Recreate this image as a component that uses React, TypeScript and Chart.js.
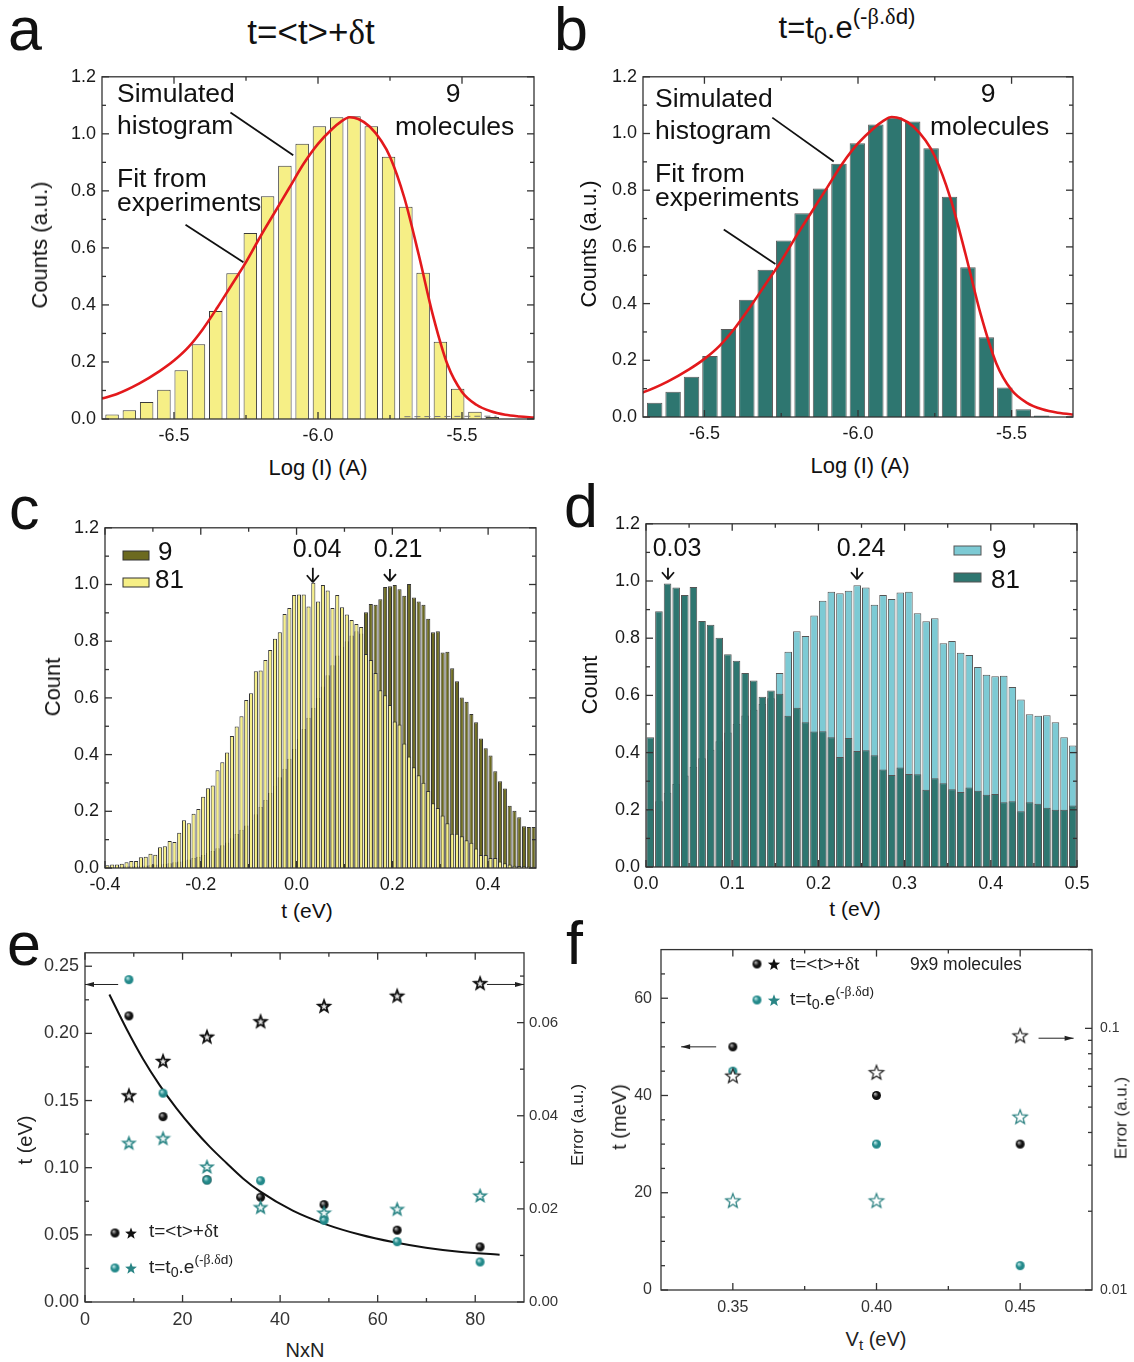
import React, { useEffect, useRef } from "react";
import { Chart, registerables } from "chart.js";

Chart.register(...registerables);

const SANS = '"Liberation Sans", Arial, Helvetica, sans-serif';
const SERIF = '"Liberation Serif", "DejaVu Serif", serif';

// ------------------------------------------------------------------ data
// panel a : simulated histogram, t = <t> + dt
const A_BIN_FIRST = -6.715;
const A_BIN_STEP = 0.06;
const A_COUNTS = [0.016, 0.031, 0.06, 0.103, 0.171, 0.262, 0.379, 0.511, 0.652, 0.781, 0.888, 0.965, 1.027, 1.058, 1.062, 1.027, 0.92, 0.744, 0.513, 0.271, 0.106, 0.025, 0.007];
// panel b : simulated histogram, t = t0.exp(-b.dd)
const B_BIN_FIRST = -6.662;
const B_BIN_STEP = 0.06;
const B_COUNTS = [0.05, 0.089, 0.142, 0.215, 0.31, 0.414, 0.519, 0.623, 0.719, 0.806, 0.893, 0.966, 1.032, 1.056, 1.042, 0.948, 0.777, 0.528, 0.281, 0.104, 0.027, 0.005];
// fit from experiments (same in a and b)
const FIT_LOGI = [-6.75, -6.7, -6.62, -6.55, -6.5, -6.45, -6.4, -6.35, -6.3, -6.25, -6.2, -6.15, -6.1, -6.05, -6.0, -5.95, -5.92, -5.89, -5.86, -5.82, -5.78, -5.75, -5.7, -5.65, -5.6, -5.55, -5.5, -5.45, -5.4, -5.35, -5.3, -5.25];
const FIT_COUNTS = [0.072, 0.087, 0.125, 0.168, 0.205, 0.252, 0.315, 0.39, 0.47, 0.55, 0.64, 0.725, 0.81, 0.895, 0.965, 1.018, 1.043, 1.058, 1.052, 1.025, 0.975, 0.92, 0.775, 0.575, 0.36, 0.19, 0.095, 0.05, 0.027, 0.015, 0.009, 0.005];
const AB_X_TICKS = [-6.5, -6.0, -5.5];
const AB_X_MINOR = [-6.25, -5.75];
const HIST_Y_TICKS = [0, 0.2, 0.4, 0.6, 0.8, 1.0, 1.2];
const HIST_Y_MINOR = [0.1, 0.3, 0.5, 0.7, 0.9, 1.1];

// panel c : t distributions (t=<t>+dt), 9 and 81 molecules
const C_BIN_FIRST = -0.395;
const C_BIN_STEP = 0.01;
const C_81 = [
  0.01, 0.012, 0.012, 0.015, 0.02, 0.025, 0.025, 0.038, 0.04, 0.05,
  0.047, 0.073, 0.077, 0.095, 0.092, 0.124, 0.168, 0.158, 0.191, 0.208,
  0.251, 0.281, 0.291, 0.345, 0.373, 0.407, 0.466, 0.499, 0.535, 0.593,
  0.616, 0.694, 0.697, 0.734, 0.769, 0.809, 0.832, 0.896, 0.917, 0.963,
  0.965, 0.965, 0.922, 1.006, 0.94, 0.998, 0.979, 0.917, 0.963, 0.92,
  0.894, 0.875, 0.861, 0.85, 0.755, 0.734, 0.688, 0.627, 0.609, 0.575,
  0.517, 0.506, 0.439, 0.393, 0.355, 0.327, 0.301, 0.272, 0.228, 0.212,
  0.185, 0.158, 0.121, 0.121, 0.112, 0.098, 0.089, 0.069, 0.046, 0.046,
  0.035, 0.035, 0.023, 0.017, 0.012, 0.008, 0.007, 0.006, 0.005, 0.004,
];
const C_9 = [
  0.003, 0.004, 0.004, 0.005, 0.006, 0.006, 0.007, 0.008, 0.009, 0.01,
  0.012, 0.013, 0.015, 0.017, 0.02, 0.023, 0.026, 0.03, 0.035, 0.04,
  0.046, 0.053, 0.06, 0.07, 0.08, 0.09, 0.105, 0.12, 0.135, 0.15,
  0.17, 0.19, 0.215, 0.24, 0.265, 0.29, 0.32, 0.35, 0.385, 0.42,
  0.455, 0.49, 0.53, 0.565, 0.6, 0.64, 0.68, 0.715, 0.75, 0.78,
  0.8, 0.82, 0.835, 0.827, 0.902, 0.931, 0.929, 0.948, 0.991, 0.994,
  0.998, 0.983, 0.96, 1.002, 0.954, 0.94, 0.929, 0.879, 0.832, 0.835,
  0.76, 0.763, 0.705, 0.659, 0.601, 0.586, 0.543, 0.514, 0.457, 0.422,
  0.397, 0.341, 0.306, 0.28, 0.22, 0.202, 0.179, 0.147, 0.145, 0.145,
];
const C_X_TICKS = [-0.4, -0.2, 0, 0.2, 0.4];
const C_X_MINOR = [-0.3, -0.1, 0.1, 0.3];

// panel d : t distributions (t=t0.exp), 9 and 81 molecules
const D_BIN_FIRST = 0.005;
const D_BIN_STEP = 0.01;
const D_9 = [
  0.2, 0.23, 0.26, 0.29, 0.32, 0.35, 0.38, 0.41, 0.44, 0.47,
  0.5, 0.53, 0.55, 0.57, 0.59, 0.678, 0.753, 0.824, 0.808, 0.879,
  0.931, 0.962, 0.957, 0.966, 0.985, 0.977, 0.917, 0.951, 0.937, 0.96,
  0.962, 0.887, 0.859, 0.87, 0.782, 0.79, 0.749, 0.741, 0.699, 0.672,
  0.667, 0.669, 0.629, 0.586, 0.534, 0.529, 0.531, 0.506, 0.454, 0.425,
];
const D_81 = [
  0.454, 0.894, 0.991, 0.977, 0.951, 0.979, 0.86, 0.847, 0.802, 0.744,
  0.721, 0.678, 0.652, 0.595, 0.617, 0.606, 0.529, 0.557, 0.506, 0.474,
  0.475, 0.454, 0.385, 0.451, 0.406, 0.408, 0.391, 0.341, 0.322, 0.348,
  0.325, 0.324, 0.27, 0.31, 0.293, 0.272, 0.262, 0.278, 0.267, 0.253,
  0.255, 0.226, 0.23, 0.195, 0.226, 0.221, 0.207, 0.2, 0.2, 0.215,
];
const D_X_TICKS = [0, 0.1, 0.2, 0.3, 0.4, 0.5];
const D_X_MINOR = [0.05, 0.15, 0.25, 0.35, 0.45];

// panel e : t and error vs NxN
const E_N = [9, 16, 25, 36, 49, 64, 81];
const E_T_SUM = [0.213, 0.138, 0.091, 0.078, 0.0725, 0.0535, 0.041];
const E_T_EXP = [0.24, 0.1555, 0.0908, 0.0903, 0.0608, 0.0449, 0.0298];
const E_ERR_SUM = [0.0444, 0.0518, 0.057, 0.0603, 0.0636, 0.0658, 0.0685];
const E_ERR_EXP = [0.0342, 0.0352, 0.0291, 0.0204, 0.0192, 0.02, 0.0229];
const E_FIT_N = [5.0, 8.5, 11.9, 15.3, 18.8, 22.2, 25.6, 29.0, 32.4, 35.8, 42.6, 49.4, 56.3, 63.1, 69.9, 76.7, 85.0];
const E_FIT_T = [0.229, 0.2035, 0.181, 0.1615, 0.144, 0.129, 0.1155, 0.1035, 0.092, 0.0825, 0.068, 0.0578, 0.0502, 0.0446, 0.0404, 0.0374, 0.0352];
const E_X_TICKS = [0, 20, 40, 60, 80];
const E_X_MINOR = [10, 30, 50, 70];
const E_Y_TICKS = [0, 0.05, 0.1, 0.15, 0.2, 0.25];
const E_Y_MINOR = [0.025, 0.075, 0.125, 0.175, 0.225];
const E_Y2_TICKS = [0, 0.02, 0.04, 0.06];
const E_Y2_MINOR = [0.01, 0.03, 0.05, 0.07];

// panel f : t and error vs Vt (9x9 molecules)
const F_V = [0.35, 0.4, 0.45];
const F_T_SUM = [50, 40, 30];
const F_T_EXP = [45, 30, 5];
const F_ERR_SUM = [0.066, 0.068, 0.094];
const F_ERR_EXP = [0.022, 0.022, 0.046];
const F_X_TICKS = [0.35, 0.4, 0.45];
const F_X_MINOR = [0.375, 0.425];
const F_Y_TICKS = [0, 20, 40, 60];
const F_Y_MINOR = [5, 10, 15, 25, 30, 35, 45, 50, 55, 65];
const F_Y2_TICKS = [0.01, 0.1];
const F_Y2_MINOR = [0.02, 0.03, 0.04, 0.05, 0.06, 0.07, 0.08, 0.09, 0.2];

// ------------------------------------------------------------------ helpers
type CA = { l: number; t: number; r: number; b: number };
type Geo = { ca: CA; left: number; right: number; top: number; bottom: number };

const GEO_A: Geo = { ca: { l: 102, t: 72, r: 534, b: 419 }, left: 60, right: 22, top: 12, bottom: 30 };
const GEO_B: Geo = { ca: { l: 643, t: 72, r: 1073, b: 417 }, left: 60, right: 22, top: 12, bottom: 30 };
const GEO_C: Geo = { ca: { l: 105, t: 523, r: 536, b: 868 }, left: 60, right: 22, top: 12, bottom: 30 };
const GEO_D: Geo = { ca: { l: 646, t: 519, r: 1077, b: 867 }, left: 60, right: 22, top: 12, bottom: 30 };
const GEO_E: Geo = { ca: { l: 85, t: 948, r: 524, b: 1302 }, left: 60, right: 46, top: 12, bottom: 32 };
const GEO_F: Geo = { ca: { l: 661, t: 943, r: 1092, b: 1290 }, left: 44, right: 40, top: 12, bottom: 32 };

const canvasBox = (g: Geo) => ({
  x: g.ca.l - g.left,
  y: g.ca.t - g.top,
  w: g.ca.r - g.ca.l + g.left + g.right,
  h: g.ca.b - g.ca.t + g.top + g.bottom,
});

const centers = (first: number, step: number, n: number) =>
  Array.from({ length: n }, (_, i) => Math.round((first + i * step) * 10000) / 10000);
const pts = (xs: number[], ys: number[]) => xs.map((x, i) => ({ x, y: ys[i] }));

type AxisOpt = {
  type?: string; position?: string; min: number; max: number; ticks: number[];
  fmt: (v: number) => string; size: number; pad: number; fit: (s: any) => void; color?: string;
};
function axis(o: AxisOpt) {
  return {
    type: o.type ?? "linear",
    position: o.position,
    min: o.min,
    max: o.max,
    offset: false,
    grid: { display: false, drawTicks: false },
    border: { display: false },
    ticks: {
      font: { family: SANS, size: o.size },
      color: o.color ?? "#1a1a1a",
      padding: o.pad,
      autoSkip: false,
      maxRotation: 0,
      minRotation: 0,
      callback: (v: any) => o.fmt(Number(v)),
    },
    afterBuildTicks: (s: any) => {
      s.ticks = o.ticks.map((value) => ({ value }));
    },
    afterFit: o.fit,
  };
}

function baseOptions(geo: Geo, scales: any, hasY2: boolean) {
  return {
    animation: false,
    responsive: false,
    maintainAspectRatio: false,
    devicePixelRatio: 1,
    events: [],
    layout: { padding: { left: 0, top: geo.top, right: hasY2 ? 0 : geo.right, bottom: 0 } },
    plugins: { legend: { display: false }, tooltip: { enabled: false }, title: { display: false } },
    scales,
  };
}

type Spec = { xMajor: number[]; xMinor: number[]; yMajor: number[]; yMinor: number[]; y2Major?: number[]; y2Minor?: number[] };

function framePlugin(spec: Spec, extra?: (chart: any, ctx: CanvasRenderingContext2D) => void) {
  return {
    id: "frame",
    afterDatasetsDraw(chart: any) {
      const { ctx, chartArea: a, scales } = chart;
      ctx.save();
      ctx.strokeStyle = "#333";
      ctx.lineWidth = 1.3;
      const seg = (x1: number, y1: number, x2: number, y2: number) => {
        ctx.beginPath();
        ctx.moveTo(x1, y1);
        ctx.lineTo(x2, y2);
        ctx.stroke();
      };
      const xT = (vals: number[], len: number) =>
        vals.forEach((v) => {
          const p = scales.x.getPixelForValue(v);
          seg(p, a.bottom, p, a.bottom - len);
          seg(p, a.top, p, a.top + len);
        });
      const yL = (sc: any, vals: number[], len: number) =>
        vals.forEach((v) => {
          const p = sc.getPixelForValue(v);
          seg(a.left, p, a.left + len, p);
        });
      const yR = (sc: any, vals: number[], len: number) =>
        vals.forEach((v) => {
          const p = sc.getPixelForValue(v);
          seg(a.right, p, a.right - len, p);
        });
      xT(spec.xMajor, 7);
      xT(spec.xMinor, 4);
      yL(scales.y, spec.yMajor, 7);
      yL(scales.y, spec.yMinor, 4);
      if (scales.y2) {
        yR(scales.y2, spec.y2Major || [], 7);
        yR(scales.y2, spec.y2Minor || [], 4);
      } else {
        yR(scales.y, spec.yMajor, 7);
        yR(scales.y, spec.yMinor, 4);
      }
      ctx.strokeRect(a.left, a.top, a.right - a.left, a.bottom - a.top);
      if (extra) extra(chart, ctx);
      ctx.restore();
    },
  };
}

function line(ctx: CanvasRenderingContext2D, x1: number, y1: number, x2: number, y2: number, w = 1.5, col = "#111") {
  ctx.save();
  ctx.strokeStyle = col;
  ctx.lineWidth = w;
  ctx.beginPath();
  ctx.moveTo(x1, y1);
  ctx.lineTo(x2, y2);
  ctx.stroke();
  ctx.restore();
}
function downArrow(ctx: CanvasRenderingContext2D, x: number, y1: number, y2: number) {
  line(ctx, x, y1, x, y2, 1.8);
  line(ctx, x - 6, y2 - 7, x, y2, 1.8);
  line(ctx, x + 6, y2 - 7, x, y2, 1.8);
}
function hArrow(ctx: CanvasRenderingContext2D, xFrom: number, xTo: number, y: number) {
  line(ctx, xFrom, y, xTo, y, 1, "#222");
  const dir = xTo > xFrom ? 1 : -1;
  ctx.save();
  ctx.fillStyle = "#222";
  ctx.beginPath();
  ctx.moveTo(xTo, y);
  ctx.lineTo(xTo - dir * 9, y - 2.5);
  ctx.lineTo(xTo - dir * 9, y + 2.5);
  ctx.closePath();
  ctx.fill();
  ctx.restore();
}

function starCanvas(R: number, fill: string, stroke: string, lw: number) {
  const size = Math.ceil(2 * R + lw + 3);
  const c = document.createElement("canvas");
  c.width = size;
  c.height = size;
  const g = c.getContext("2d")!;
  const cx = size / 2;
  const cy = size / 2 + R * 0.1;
  g.beginPath();
  for (let k = 0; k < 10; k++) {
    const r = k % 2 === 0 ? R : R * 0.42;
    const ang = -Math.PI / 2 + (k * Math.PI) / 5;
    const px = cx + r * Math.cos(ang);
    const py = cy + r * Math.sin(ang);
    if (k === 0) g.moveTo(px, py);
    else g.lineTo(px, py);
  }
  g.closePath();
  g.fillStyle = fill;
  g.fill();
  if (lw > 0) {
    g.lineWidth = lw;
    g.strokeStyle = stroke;
    g.lineJoin = "miter";
    g.stroke();
  }
  return c;
}
function ballCanvas(d: number, dark: string, light: string) {
  const size = Math.ceil(d + 2);
  const c = document.createElement("canvas");
  c.width = size;
  c.height = size;
  const g = c.getContext("2d")!;
  const r = d / 2;
  const cx = size / 2;
  const grad = g.createRadialGradient(cx - r * 0.35, cx - r * 0.4, r * 0.05, cx, cx, r);
  grad.addColorStop(0, light);
  grad.addColorStop(0.55, dark);
  grad.addColorStop(1, dark);
  g.fillStyle = grad;
  g.beginPath();
  g.arc(cx, cx, r, 0, Math.PI * 2);
  g.fill();
  return c;
}

// page coordinate -> canvas coordinate
const pc = (geo: Geo, x: number, y: number) => {
  const b = canvasBox(geo);
  return [x - b.x, y - b.y];
};

// ------------------------------------------------------------------ chart builders
const YELLOW = "#f6ef86";
const TEAL = "#2e7670";
const OLIVE = "#6c6a20";
const LIGHT_TEAL = "#7dcad4";
const RED = "#e3191c";
const BALL_TEAL = "#23898a";

function histChart(geo: Geo, first: number, step: number, counts: number[], fill: string, border: string, xmin: number, xmax: number, barPct: number, pointers: number[][], dashed: number[] | null) {
  const xc = centers(first, step, counts.length);
  return {
    type: "bar",
    data: {
      datasets: [
        {
          type: "line",
          data: pts(FIT_LOGI, FIT_COUNTS),
          borderColor: RED,
          borderWidth: 2.6,
          pointRadius: 0,
          cubicInterpolationMode: "monotone",
          order: 0,
        },
        {
          type: "bar",
          data: pts(xc, counts),
          backgroundColor: fill,
          borderColor: border,
          borderWidth: 1,
          barPercentage: barPct,
          categoryPercentage: 1,
          order: 1,
        },
      ],
    },
    options: baseOptions(
      geo,
      {
        x: axis({ min: xmin, max: xmax, ticks: AB_X_TICKS, fmt: (v) => v.toFixed(1), size: 18, pad: 6, fit: (s) => { s.height = geo.bottom; } }),
        y: axis({ min: 0, max: 1.2, ticks: HIST_Y_TICKS, fmt: (v) => v.toFixed(1), size: 18, pad: 6, fit: (s) => { s.width = geo.left; } }),
      },
      false
    ),
    plugins: [
      framePlugin({ xMajor: AB_X_TICKS, xMinor: AB_X_MINOR, yMajor: HIST_Y_TICKS, yMinor: HIST_Y_MINOR }, (chart, ctx) => {
        const { x, y } = chart.scales;
        pointers.forEach((p) => line(ctx, x.getPixelForValue(p[0]), y.getPixelForValue(p[1]), x.getPixelForValue(p[2]), y.getPixelForValue(p[3]), 1.8));
        if (dashed) {
          ctx.save();
          ctx.setLineDash([6, 4]);
          line(ctx, x.getPixelForValue(dashed[0]), y.getPixelForValue(dashed[1]), x.getPixelForValue(dashed[2]), y.getPixelForValue(dashed[3]), 1, "#777");
          ctx.restore();
        }
      }),
    ],
  };
}

// pointer lines: [x1, y1, x2, y2] in data units
const A_POINTERS = [
  [-6.304, 1.075, -6.086, 0.925],
  [-6.46, 0.681, -6.259, 0.55],
];
const A_DASH = [-5.7, 0.008, -5.38, 0.01];
const B_POINTERS = [
  [-6.279, 1.056, -6.079, 0.901],
  [-6.437, 0.661, -6.269, 0.54],
];

const makeA = () => histChart(GEO_A, A_BIN_FIRST, A_BIN_STEP, A_COUNTS, YELLOW, "#3a3a3a", -6.75, -5.25, 0.78, A_POINTERS, A_DASH);
const makeB = () => histChart(GEO_B, B_BIN_FIRST, B_BIN_STEP, B_COUNTS, TEAL, "#5a5a5a", -6.7, -5.3, 0.84, B_POINTERS, null);

function pairChart(geo: Geo, first: number, step: number, front: number[], back: number[], frontCol: string, backCol: string, border: string, xmin: number, xmax: number, xt: number[], xm: number[], barPct: number, arrows: number[][], boxes: { c: string; r: number[] }[]) {
  const xc = centers(first, step, front.length);
  return {
    type: "bar",
    data: {
      datasets: [
        { data: pts(xc, front), backgroundColor: frontCol, borderColor: border, borderWidth: 1, barPercentage: barPct, categoryPercentage: 1, grouped: false, order: 0 },
        { data: pts(xc, back), backgroundColor: backCol, borderColor: border, borderWidth: 1, barPercentage: barPct, categoryPercentage: 1, grouped: false, order: 1 },
      ],
    },
    options: baseOptions(
      geo,
      {
        x: axis({ min: xmin, max: xmax, ticks: xt, fmt: (v) => v.toFixed(1), size: 18, pad: 6, fit: (s) => { s.height = geo.bottom; } }),
        y: axis({ min: 0, max: 1.2, ticks: HIST_Y_TICKS, fmt: (v) => v.toFixed(1), size: 18, pad: 6, fit: (s) => { s.width = geo.left; } }),
      },
      false
    ),
    plugins: [
      framePlugin({ xMajor: xt, xMinor: xm, yMajor: HIST_Y_TICKS, yMinor: HIST_Y_MINOR }, (chart, ctx) => {
        const { x, y } = chart.scales;
        arrows.forEach((a) => downArrow(ctx, x.getPixelForValue(a[0]), y.getPixelForValue(a[1]), y.getPixelForValue(a[2])));
        boxes.forEach((b) => {
          const [x1, y1] = pc(geo, b.r[0], b.r[1]);
          const [x2, y2] = pc(geo, b.r[2], b.r[3]);
          ctx.fillStyle = b.c;
          ctx.fillRect(x1, y1, x2 - x1, y2 - y1);
          ctx.strokeStyle = border;
          ctx.lineWidth = 1;
          ctx.strokeRect(x1, y1, x2 - x1, y2 - y1);
        });
      }),
    ],
  };
}

const C_ARROWS = [
  [0.034, 1.059, 1.008],
  [0.195, 1.055, 1.012],
];
const D_ARROWS = [
  [0.0255, 1.046, 1.006],
  [0.2448, 1.046, 1.006],
];

const makeC = () =>
  pairChart(GEO_C, C_BIN_FIRST, C_BIN_STEP, C_81, C_9, YELLOW, OLIVE, "#333", -0.4, 0.5, C_X_TICKS, C_X_MINOR, 0.86, C_ARROWS, [
    { c: OLIVE, r: [123, 551, 149, 560] },
    { c: YELLOW, r: [123, 578, 149, 587] },
  ]);
const makeD = () =>
  pairChart(GEO_D, D_BIN_FIRST, D_BIN_STEP, D_81, D_9, TEAL, LIGHT_TEAL, "#555", 0, 0.5, D_X_TICKS, D_X_MINOR, 0.88, D_ARROWS, [
    { c: LIGHT_TEAL, r: [954, 546, 981, 555] },
    { c: TEAL, r: [954, 573, 981, 582] },
  ]);

function makeE() {
  const geo = GEO_E;
  const ballK = ballCanvas(9, "#111", "#bdbdbd");
  const ballT = ballCanvas(9, BALL_TEAL, "#c8f0f0");
  const starK = starCanvas(6.2, "#e6e6e6", "#111", 1.8);
  const starT = starCanvas(6.2, "#eef7f7", "#2a8585", 1.6);
  const starKs = starCanvas(6.2, "#111", "#111", 0);
  const starTs = starCanvas(6.2, "#2a8585", "#2a8585", 0);
  return {
    type: "scatter",
    data: {
      datasets: [
        { type: "scatter", data: pts(E_N, E_ERR_EXP), yAxisID: "y2", pointStyle: starT, pointRadius: 5, order: 0 },
        { type: "scatter", data: pts(E_N, E_ERR_SUM), yAxisID: "y2", pointStyle: starK, pointRadius: 5, order: 1 },
        { type: "scatter", data: pts(E_N, E_T_EXP), yAxisID: "y", pointStyle: ballT, pointRadius: 5, order: 2 },
        { type: "scatter", data: pts(E_N, E_T_SUM), yAxisID: "y", pointStyle: ballK, pointRadius: 5, order: 3 },
        { type: "line", data: pts(E_FIT_N, E_FIT_T), yAxisID: "y", borderColor: "#111", borderWidth: 2, pointRadius: 0, cubicInterpolationMode: "monotone", order: 4 },
      ],
    },
    options: baseOptions(
      geo,
      {
        x: axis({ min: 0, max: 90, ticks: E_X_TICKS, fmt: (v) => v.toFixed(0), size: 18, pad: 7, color: "#333", fit: (s) => { s.height = geo.bottom; } }),
        y: axis({ min: 0, max: 0.26, ticks: E_Y_TICKS, fmt: (v) => v.toFixed(2), size: 18, pad: 6, color: "#333", fit: (s) => { s.width = geo.left; } }),
        y2: axis({ position: "right", min: 0, max: 0.075, ticks: E_Y2_TICKS, fmt: (v) => v.toFixed(2), size: 15, pad: 5, color: "#333", fit: (s) => { s.width = geo.right; } }),
      },
      true
    ),
    plugins: [
      framePlugin({ xMajor: E_X_TICKS, xMinor: E_X_MINOR, yMajor: E_Y_TICKS, yMinor: E_Y_MINOR, y2Major: E_Y2_TICKS, y2Minor: E_Y2_MINOR }, (chart, ctx) => {
        const { x, y, y2 } = chart.scales;
        hArrow(ctx, x.getPixelForValue(6.8), x.getPixelForValue(0), y.getPixelForValue(0.2364));
        hArrow(ctx, x.getPixelForValue(82.4), x.getPixelForValue(90), y2.getPixelForValue(0.0682));
        const img = (im: HTMLCanvasElement, px: number, py: number) => {
          const [cx, cy] = pc(geo, px, py);
          ctx.drawImage(im, cx - im.width / 2, cy - im.height / 2);
        };
        img(ballK, 115, 1233);
        img(starKs, 131, 1233);
        img(ballT, 115, 1268);
        img(starTs, 131, 1268);
      }),
    ],
  };
}

function makeF() {
  const geo = GEO_F;
  const ballK = ballCanvas(9, "#111", "#bdbdbd");
  const ballT = ballCanvas(9, BALL_TEAL, "#c8f0f0");
  const starK = starCanvas(7.5, "#ffffff", "#222", 1.2);
  const starT = starCanvas(7.5, "#ffffff", "#2a8080", 1.2);
  const starKs = starCanvas(6.5, "#111", "#111", 0);
  const starTs = starCanvas(6.5, "#2a8585", "#2a8585", 0);
  return {
    type: "scatter",
    data: {
      datasets: [
        { type: "scatter", data: pts(F_V, F_ERR_SUM), yAxisID: "y2", pointStyle: starK, pointRadius: 5, order: 0 },
        { type: "scatter", data: pts(F_V, F_ERR_EXP), yAxisID: "y2", pointStyle: starT, pointRadius: 5, order: 1 },
        { type: "scatter", data: pts(F_V, F_T_SUM), yAxisID: "y", pointStyle: ballK, pointRadius: 5, order: 2 },
        { type: "scatter", data: pts(F_V, F_T_EXP), yAxisID: "y", pointStyle: ballT, pointRadius: 5, order: 3 },
      ],
    },
    options: baseOptions(
      geo,
      {
        x: axis({ min: 0.325, max: 0.475, ticks: F_X_TICKS, fmt: (v) => v.toFixed(2), size: 16, pad: 8, color: "#333", fit: (s) => { s.height = geo.bottom; } }),
        y: axis({ min: 0, max: 70, ticks: F_Y_TICKS, fmt: (v) => v.toFixed(0), size: 16, pad: 9, color: "#333", fit: (s) => { s.width = geo.left; } }),
        y2: axis({ type: "logarithmic", position: "right", min: 0.01, max: 0.2, ticks: F_Y2_TICKS, fmt: (v) => String(v), size: 14, pad: 8, color: "#333", fit: (s) => { s.width = geo.right; } }),
      },
      true
    ),
    plugins: [
      framePlugin({ xMajor: F_X_TICKS, xMinor: F_X_MINOR, yMajor: F_Y_TICKS, yMinor: F_Y_MINOR, y2Major: F_Y2_TICKS, y2Minor: F_Y2_MINOR }, (chart, ctx) => {
        const { x, y, y2 } = chart.scales;
        hArrow(ctx, x.getPixelForValue(0.3442), x.getPixelForValue(0.332), y.getPixelForValue(50));
        hArrow(ctx, x.getPixelForValue(0.4564), x.getPixelForValue(0.4686), y2.getPixelForValue(0.0917));
        const img = (im: HTMLCanvasElement, px: number, py: number) => {
          const [cx, cy] = pc(geo, px, py);
          ctx.drawImage(im, cx - im.width / 2, cy - im.height / 2);
        };
        img(ballK, 757, 964);
        img(starKs, 774, 964);
        img(ballT, 757, 1000);
        img(starTs, 774, 1000);
      }),
    ],
  };
}

// ------------------------------------------------------------------ components
function ChartBox({ geo, make }: { geo: Geo; make: () => any }) {
  const ref = useRef<HTMLCanvasElement | null>(null);
  const box = canvasBox(geo);
  useEffect(() => {
    if (!ref.current) return;
    const chart = new Chart(ref.current, make());
    return () => chart.destroy();
  }, []);
  return (
    <canvas
      ref={ref}
      width={box.w}
      height={box.h}
      style={{ position: "absolute", left: box.x, top: box.y, width: box.w, height: box.h }}
    />
  );
}

type TP = { x: number; y: number; s: number; a?: "l" | "c" | "r"; children?: React.ReactNode; col?: string };
function T({ x, y, s, a = "l", children, col = "#111" }: TP) {
  const tx = a === "l" ? "0" : a === "c" ? "-50%" : "-100%";
  return (
    <div
      style={{
        position: "absolute",
        left: x,
        top: y - 0.8465 * s,
        fontSize: s,
        lineHeight: 1,
        fontFamily: SANS,
        color: col,
        whiteSpace: "nowrap",
        transform: `translateX(${tx})`,
      }}
    >
      {children}
    </div>
  );
}
function VT({ x, y, s, children, col = "#111" }: TP) {
  return (
    <div
      style={{
        position: "absolute",
        left: x,
        top: y,
        fontSize: s,
        lineHeight: 1,
        fontFamily: SANS,
        color: col,
        whiteSpace: "nowrap",
        transform: "translate(-50%, -50%) rotate(-90deg)",
      }}
    >
      {children}
    </div>
  );
}
const G = ({ c }: { c: string }) => <span style={{ fontFamily: SERIF }}>{c}</span>;
const Sub = ({ c }: { c: string }) => <span style={{ fontSize: "0.75em", position: "relative", top: "0.28em" }}>{c}</span>;
const Sup = ({ c }: { c: React.ReactNode }) => <span style={{ fontSize: "0.72em", position: "relative", top: "-0.62em" }}>{c}</span>;
const ExpLabel = () => (
  <>
    t=t<Sub c="0" />.e
    <Sup c={<>(-<G c="β" />.<G c="δ" />d)</>} />
  </>
);
const SumLabel = () => (
  <>
    {"t=<t>+"}
    <G c="δ" />t
  </>
);

export default function App() {
  const L = 61;
  return (
    <div
      style={{
        position: "absolute",
        left: 0,
        top: 0,
        width: 1134,
        height: 1362,
        background: "#ffffff",
        overflow: "hidden",
        fontFamily: SANS,
      }}
    >
      <ChartBox geo={GEO_A} make={makeA} />
      <ChartBox geo={GEO_B} make={makeB} />
      <ChartBox geo={GEO_C} make={makeC} />
      <ChartBox geo={GEO_D} make={makeD} />
      <ChartBox geo={GEO_E} make={makeE} />
      <ChartBox geo={GEO_F} make={makeF} />

      {/* panel letters */}
      <T x={8} y={51} s={L}>a</T>
      <T x={554} y={51} s={L}>b</T>
      <T x={9} y={530} s={L}>c</T>
      <T x={564} y={528} s={L}>d</T>
      <T x={7} y={966} s={L}>e</T>
      <T x={566} y={965} s={L}>f</T>

      {/* titles */}
      <T x={311} y={44} s={35} a="c"><SumLabel /></T>
      <T x={847} y={38} s={31} a="c"><ExpLabel /></T>

      {/* panel a */}
      <VT x={40} y={245} s={22}>Counts (a.u.)</VT>
      <T x={318} y={476} s={22} a="c">Log (I) (A)</T>
      <T x={117} y={102} s={26.5}>Simulated</T>
      <T x={117} y={134} s={26.5}>histogram</T>
      <T x={117} y={187} s={26.5}>Fit from</T>
      <T x={117} y={211} s={26.5}>experiments</T>
      <T x={453} y={102} s={26.5} a="c">9</T>
      <T x={395} y={135} s={26.5}>molecules</T>

      {/* panel b */}
      <VT x={589} y={244} s={22}>Counts (a.u.)</VT>
      <T x={860} y={474} s={22} a="c">Log (I) (A)</T>
      <T x={655} y={107} s={26.5}>Simulated</T>
      <T x={655} y={139} s={26.5}>histogram</T>
      <T x={655} y={182} s={26.5}>Fit from</T>
      <T x={655} y={206} s={26.5}>experiments</T>
      <T x={988} y={102} s={26.5} a="c">9</T>
      <T x={930} y={135} s={26.5}>molecules</T>

      {/* panel c */}
      <VT x={53} y={687} s={22}>Count</VT>
      <T x={307} y={918} s={21} a="c">t (eV)</T>
      <T x={158} y={560} s={26}>9</T>
      <T x={155} y={588} s={26}>81</T>
      <T x={317} y={557} s={25} a="c">0.04</T>
      <T x={398} y={557} s={25} a="c">0.21</T>

      {/* panel d */}
      <VT x={590} y={685} s={22}>Count</VT>
      <T x={855} y={916} s={21} a="c">t (eV)</T>
      <T x={992} y={558} s={26}>9</T>
      <T x={991} y={588} s={26}>81</T>
      <T x={677} y={556} s={25} a="c">0.03</T>
      <T x={861} y={556} s={25} a="c">0.24</T>

      {/* panel e */}
      <VT x={25} y={1140} s={20} col="#222">t (eV)</VT>
      <T x={305} y={1357} s={20} a="c" col="#222">NxN</T>
      <VT x={577} y={1125} s={17} col="#222">Error (a.u.)</VT>
      <T x={149} y={1237} s={19} col="#222"><SumLabel /></T>
      <T x={149} y={1273} s={19} col="#222"><ExpLabel /></T>

      {/* panel f */}
      <VT x={619} y={1117} s={20} col="#222">t (meV)</VT>
      <T x={876} y={1346} s={20} a="c" col="#222">V<Sub c="t" /> (eV)</T>
      <VT x={1121} y={1118} s={17} col="#222">Error (a.u.)</VT>
      <T x={790} y={970} s={19} col="#222"><SumLabel /></T>
      <T x={790} y={1005} s={19} col="#222"><ExpLabel /></T>
      <T x={910} y={971} s={17.5} col="#222">9x9 molecules</T>
    </div>
  );
}
